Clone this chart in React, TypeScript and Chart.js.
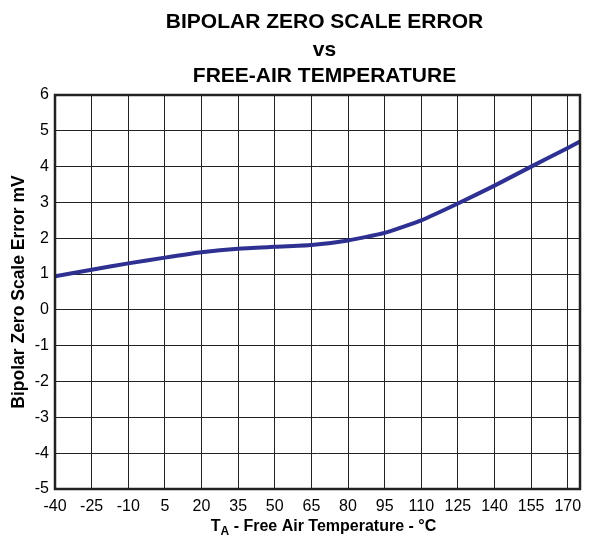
import React, { useEffect, useRef } from "react";
import Chart from "chart.js/auto";

const temperatures = [-40, -25, -10, 5, 20, 35, 50, 65, 80, 95, 110, 125, 140, 155, 170, 175];
const errorMv = [0.94, 1.12, 1.3, 1.46, 1.61, 1.71, 1.76, 1.81, 1.94, 2.15, 2.5, 2.97, 3.47, 4.0, 4.52, 4.7];
const xTicks = [-40, -25, -10, 5, 20, 35, 50, 65, 80, 95, 110, 125, 140, 155, 170];
const yTicks = [-5, -4, -3, -2, -1, 0, 1, 2, 3, 4, 5, 6];
const titleLines = ["BIPOLAR ZERO SCALE ERROR", "vs", "FREE-AIR TEMPERATURE"];
const yTitle = "Bipolar Zero Scale Error mV";

const FONT = '"Liberation Sans", Arial, Helvetica, sans-serif';

const decorPlugin = {
  id: "decor",
  afterDraw(chart: any) {
    const ctx = chart.ctx;
    const ca = chart.chartArea;
    const cx = (ca.left + ca.right) / 2;
    ctx.save();
    // Title
    ctx.fillStyle = "#000";
    ctx.textAlign = "center";
    ctx.textBaseline = "middle";
    ctx.font = `bold 21px ${FONT}`;
    const ys = [22, 50, 76];
    titleLines.forEach((t, i) => ctx.fillText(t, cx + 7, ys[i]));
    // frame
    ctx.strokeStyle = "#222";
    ctx.lineWidth = 2.5;
    ctx.strokeRect(ca.left, ca.top, ca.right - ca.left, ca.bottom - ca.top);
    // Y title
    ctx.save();
    ctx.translate(19, (ca.top + ca.bottom) / 2);
    ctx.rotate(-Math.PI / 2);
    ctx.font = `bold 17.5px ${FONT}`;
    ctx.textAlign = "center";
    ctx.textBaseline = "middle";
    ctx.fillText(yTitle, 0, 0);
    ctx.restore();
    // X title with subscript
    const big = `bold 16px ${FONT}`;
    const small = `bold 12px ${FONT}`;
    const p1 = "T";
    const p2 = "A";
    const p3 = " - Free Air Temperature - \u00B0C";
    ctx.font = big;
    const w1 = ctx.measureText(p1).width;
    const w3 = ctx.measureText(p3).width;
    ctx.font = small;
    const w2 = ctx.measureText(p2).width;
    const total = w1 + w2 + w3;
    let x = cx + 6 - total / 2;
    const base = 531;
    ctx.textAlign = "left";
    ctx.textBaseline = "alphabetic";
    ctx.font = big;
    ctx.fillText(p1, x, base);
    x += w1;
    ctx.font = small;
    ctx.fillText(p2, x, base + 4);
    x += w2;
    ctx.font = big;
    ctx.fillText(p3, x, base);
    ctx.restore();
  },
};

export default function App() {
  const ref = useRef<HTMLCanvasElement | null>(null);
  useEffect(() => {
    if (!ref.current) return;
    const chart = new Chart(ref.current, {
      type: "line",
      data: {
        datasets: [
          {
            data: temperatures.map((t, i) => ({ x: t, y: errorMv[i] })),
            borderColor: "#2e3192",
            borderWidth: 4,
            pointRadius: 0,
            tension: 0.15,
            fill: false,
          },
        ],
      },
      options: {
        animation: false,
        responsive: false,
        layout: { padding: { top: 95, left: 0, right: 12, bottom: 0 } },
        plugins: { legend: { display: false }, tooltip: { enabled: false }, title: { display: false } },
        scales: {
          x: {
            type: "linear",
            min: -40,
            max: 175,
            afterFit: (s: any) => {
              s.height = 48;
            },
            afterBuildTicks: (s: any) => {
              s.ticks = xTicks.map((v) => ({ value: v }));
            },
            grid: { color: "#222", lineWidth: 1, drawTicks: false },
            border: { display: false },
            ticks: {
              color: "#000",
              font: { family: FONT, size: 16 },
              padding: 8,
              maxRotation: 0,
              autoSkip: false,
              callback: (v: any) => String(v),
            },
          },
          y: {
            type: "linear",
            min: -5,
            max: 6,
            afterFit: (s: any) => {
              s.width = 55;
            },
            afterBuildTicks: (s: any) => {
              s.ticks = yTicks.map((v) => ({ value: v }));
            },
            grid: { color: "#222", lineWidth: 1, drawTicks: false },
            border: { display: false },
            ticks: {
              color: "#000",
              font: { family: FONT, size: 16 },
              padding: 6,
              autoSkip: false,
              callback: (v: any) => String(v),
            },
          },
        },
      },
      plugins: [decorPlugin],
    });
    return () => chart.destroy();
  }, []);
  return (
    <div style={{ position: "absolute", left: 0, top: 0, width: 592, height: 537, background: "#fff" }}>
      <canvas ref={ref} width={592} height={537} style={{ width: 592, height: 537 }} />
    </div>
  );
}
